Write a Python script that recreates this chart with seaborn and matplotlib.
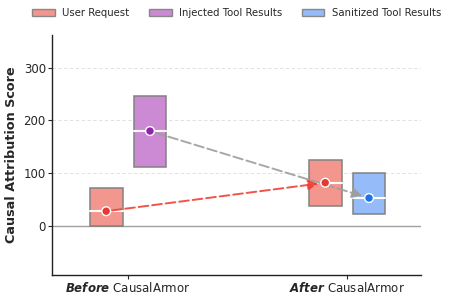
import numpy as np
import matplotlib
matplotlib.use("Agg")
import matplotlib.pyplot as plt
import seaborn as sns
from matplotlib.patches import Patch

# values
stages = ["Before", "After"]
series = ["User Request", "Injected Tool Results", "Sanitized Tool Results"]
q1 = {"User Request": [0, 38], "Injected Tool Results": [112, None], "Sanitized Tool Results": [None, 23]}
median = {"User Request": [28, 82], "Injected Tool Results": [180, None], "Sanitized Tool Results": [None, 53]}
q3 = {"User Request": [72, 125], "Injected Tool Results": [247, None], "Sanitized Tool Results": [None, 100]}

fill_colors = {"User Request": "#f28b82", "Injected Tool Results": "#c77dd0", "Sanitized Tool Results": "#8ab4f8"}
dot_colors = {"User Request": "#e53935", "Injected Tool Results": "#8e24aa", "Sanitized Tool Results": "#1a73e8"}
offsets = {"Before": {"User Request": -0.1, "Injected Tool Results": 0.1},
           "After": {"User Request": -0.1, "Sanitized Tool Results": 0.1}}

sns.set_style("white")
plt.rcParams["font.family"] = ["DejaVu Sans"]
plt.rcParams["mathtext.fontset"] = "dejavusans"

fig = plt.figure(figsize=(4.49, 2.97), dpi=100)
ax = fig.add_axes([0.116, 0.074, 0.822, 0.808])

width = 0.15
centers = {}
for i, stage in enumerate(stages):
    for name, off in offsets[stage].items():
        lo, mid, hi = q1[name][i], median[name][i], q3[name][i]
        x = i + off
        centers[(stage, name)] = (x, mid)
        ax.bar(x, hi - lo, bottom=lo, width=width, color=fill_colors[name],
               edgecolor="#808080", linewidth=1.2, alpha=0.9, zorder=3)
        ax.plot([x - width / 2, x + width / 2], [mid, mid], color="white", lw=1.5, zorder=4)

# median dots
dots = [(centers[k][0], centers[k][1], k[1]) for k in centers]
sns.scatterplot(x=[d[0] for d in dots], y=[d[1] for d in dots], hue=[d[2] for d in dots],
                palette=dot_colors, s=40, edgecolor="white", linewidth=1.0,
                legend=False, zorder=6, ax=ax)

# arrows between medians
def arrow(a, b, color):
    ax.annotate("", xy=centers[b], xytext=centers[a],
                arrowprops=dict(arrowstyle="-|>,head_length=0.6,head_width=0.3", color=color,
                                lw=1.4, ls=(0, (5, 2)), shrinkA=4, shrinkB=5, alpha=0.9),
                zorder=5)

arrow(("Before", "User Request"), ("After", "User Request"), "#ef4136")
arrow(("Before", "Injected Tool Results"), ("After", "Sanitized Tool Results"), "#9e9e9e")

ax.axhline(0, color="#a0a0a0", lw=1.0, zorder=1)
for yv in [100, 200, 300]:
    ax.axhline(yv, color="#dcdcdc", lw=0.6, ls=(0, (4, 3)), zorder=0)

ax.set_xlim(-0.347, 1.338)
ax.set_ylim(-93, 362)
ax.set_yticks([0, 100, 200, 300])
ax.set_xticks([0, 1])
ax.set_xticklabels([r"$\mathbfit{Before}$ CausalArmor", r"$\mathbfit{After}$ CausalArmor"], fontsize=8.5)
ax.tick_params(axis="y", labelsize=8.5, length=3, width=0.8, left=True, pad=1.5)
ax.tick_params(axis="x", length=3, width=0.8, bottom=True, pad=1)
ax.set_ylabel("Causal Attribution Score", fontsize=9.2, fontweight="bold", labelpad=4)
sns.despine(ax=ax)
for s in ["left", "bottom"]:
    ax.spines[s].set_color("#222222")
    ax.spines[s].set_linewidth(1.0)

handles = [Patch(facecolor=fill_colors[n], edgecolor="#808080", alpha=0.9, label=n) for n in series]
fig.legend(handles=handles, loc="center", bbox_to_anchor=(0.527, 0.955), ncol=3,
           frameon=False, fontsize=7.3, handlelength=2.2, handleheight=0.65,
           handletextpad=0.7, columnspacing=2.0, borderpad=0, borderaxespad=0)

fig.savefig("out.png", dpi=100)
